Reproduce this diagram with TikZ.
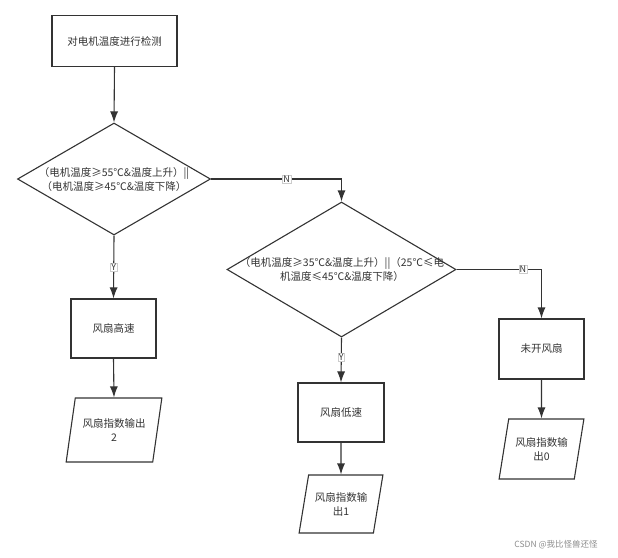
\documentclass[tikz,border=0pt]{standalone}
\usepackage{fontspec}
\setmainfont{Noto Sans CJK SC}
\usetikzlibrary{arrows.meta,shapes.geometric}

\begin{document}
\begin{tikzpicture}[x=1pt, y=1pt,
    every node/.style={text=black!80, font=\fontsize{10.5}{14}\selectfont},
    flow/.style={draw=black!80, line width=1.1pt},
    arrow/.style={flow, -{Latex[length=11pt,width=8pt]}},
    box/.style={flow, rectangle, inner sep=0pt},
    cond/.style={flow, diamond, inner sep=0pt},
    io/.style={flow, trapezium, trapezium left angle=72, trapezium right angle=108,
        trapezium stretches=true, inner sep=0pt, align=center},
    tag/.style={fill=white, draw=black!20, line width=0.4pt, inner sep=0.8pt,
        font=\fontsize{9}{10}\selectfont}]
    \useasboundingbox (0,0) rectangle (618,-557);

    % start and first test
    \node[box, minimum width=125pt, minimum height=51pt] (detect) at (114.5,-41) {对电机温度进行检测};
    \node[cond, minimum width=193pt, minimum height=112pt] (high) at (114,-179) {};
    \node[align=center] (hightext) at (114,-180)
        {（电机温度≥55℃\&温度上升）||\\（电机温度≥45℃\&温度下降）};

    % second test
    \node[cond, minimum width=229pt, minimum height=135pt] (low) at (341.5,-269.5) {};
    \node[align=center] (lowtext) at (342,-270)
        {（电机温度≥35℃\&温度上升）||（25℃≤电\\机温度≤45℃\&温度下降）};

    % fan states
    \node[box, minimum width=85pt, minimum height=59pt] (fast) at (113.5,-328.5) {风扇高速};
    \node[box, minimum width=86pt, minimum height=59pt] (slow) at (341,-412.5) {风扇低速};
    \node[box, minimum width=85pt, minimum height=60pt] (off) at (541.5,-349) {未开风扇};

    % outputs
    \node[io, minimum width=96pt, minimum height=64pt] (out2) at (114,-430) {风扇指数输出\\2};
    \node[io, minimum width=84pt, minimum height=58pt] (out1) at (341,-504) {风扇指数输\\出1};
    \node[io, minimum width=85pt, minimum height=60pt] (out0) at (541.5,-449) {风扇指数输\\出0};

    % connectors
    \draw[arrow] (detect.south) -- (high.north);
    \draw[arrow] (high.east) -| (low.north) node[tag, pos=0.29] (n1) {N};
    \draw[arrow] (high.south) -- (fast.north) node[tag, midway] (y1) {Y};
    \draw[arrow] (low.east) -| (off.north) node[tag, pos=0.39] (n2) {N};
    \draw[arrow] (low.south) -- (slow.north) node[tag, pos=0.43] (y2) {Y};
    \draw[arrow] (fast.south) -- (out2.north);
    \draw[arrow] (slow.south) -- (out1.north);
    \draw[arrow] (off.south) -- (out0.north);

    \node[text=black!45, font=\fontsize{8.5}{10}\selectfont] (mark) at (556,-545) {CSDN @我比怪兽还怪};
\end{tikzpicture}
\end{document}
